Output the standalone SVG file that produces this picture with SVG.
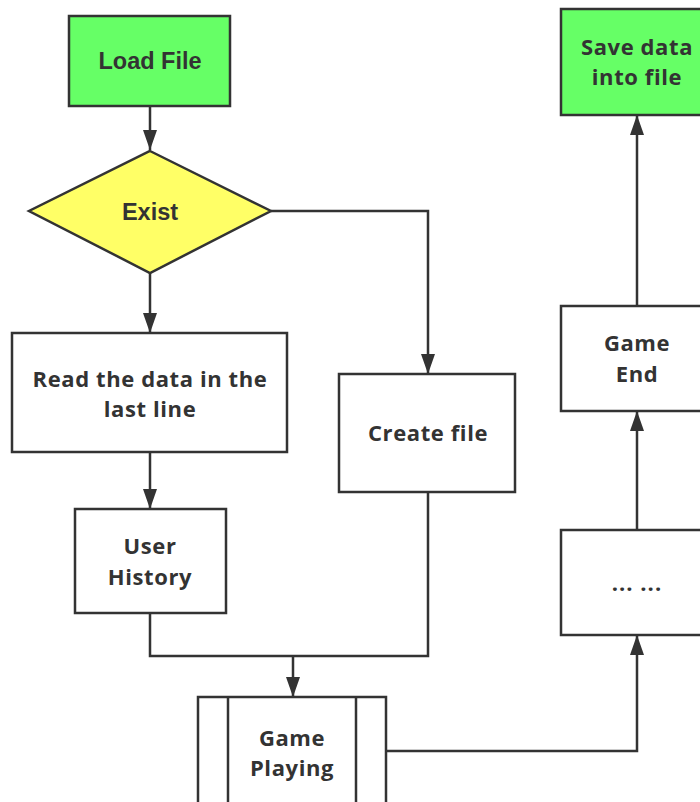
<svg xmlns="http://www.w3.org/2000/svg" width="700" height="802" viewBox="0 0 700 802">
  <style>
    .box { fill: #ffffff; stroke: #333333; stroke-width: 2.5; }
    .start { fill: #66ff66; stroke: #333333; stroke-width: 2.5; }
    .decision { fill: #ffff66; stroke: #333333; stroke-width: 2.5; }
    .edge { fill: none; stroke: #333333; stroke-width: 2.5; }
    .label { font-family: "Open Sans", "Noto Sans", sans-serif; font-weight: 700; font-size: 22px; letter-spacing: 0.6px; fill: #333333; text-anchor: middle; }
    .label-arial { font-family: "Liberation Sans", Arial, sans-serif; font-weight: 700; font-size: 23.5px; fill: #333333; text-anchor: middle; }
    .dots { font-family: "Open Sans", "Noto Sans", sans-serif; font-weight: 700; font-size: 22px; letter-spacing: 1px; fill: #333333; text-anchor: middle; }
  </style>
  <defs>
    <marker id="arrow" viewBox="0 0 20 14" refX="20" refY="7" markerWidth="20" markerHeight="14" markerUnits="userSpaceOnUse" orient="auto">
      <path d="M0,0 L20,7 L0,14 Z" fill="#333333"/>
    </marker>
  </defs>

  <rect width="700" height="802" fill="#ffffff"/>

  <g id="connectors">
    <path class="edge" d="M150,107 V150" marker-end="url(#arrow)"/>
    <path class="edge" d="M150,273 V333" marker-end="url(#arrow)"/>
    <path class="edge" d="M271,211 H428 V374" marker-end="url(#arrow)"/>
    <path class="edge" d="M150,452 V509" marker-end="url(#arrow)"/>
    <path class="edge" d="M150,613 V656 H428 V492"/>
    <path class="edge" d="M293,656 V697" marker-end="url(#arrow)"/>
    <path class="edge" d="M386,751 H637 V635" marker-end="url(#arrow)"/>
    <path class="edge" d="M637,530 V411" marker-end="url(#arrow)"/>
    <path class="edge" d="M637,306 V115" marker-end="url(#arrow)"/>
  </g>

  <g id="load-file">
    <rect class="start" x="69" y="16" width="161" height="90"/>
    <text class="label-arial" x="150" y="69">Load File</text>
  </g>

  <g id="exist">
    <polygon class="decision" points="150,151 271,211 150,273 29,211"/>
    <text class="label-arial" x="150" y="220">Exist</text>
  </g>

  <g id="read-data">
    <rect class="box" x="12" y="333" width="275" height="119"/>
    <text class="label" x="150" y="387">Read the data in the</text>
    <text class="label" x="150" y="417">last line</text>
  </g>

  <g id="user-history">
    <rect class="box" x="75" y="509" width="151" height="104"/>
    <text class="label" x="150" y="554">User</text>
    <text class="label" x="150" y="585">History</text>
  </g>

  <g id="create-file">
    <rect class="box" x="339" y="374" width="176" height="118"/>
    <text class="label" x="428" y="441">Create file</text>
  </g>

  <g id="game-playing">
    <rect class="box" x="198" y="697" width="188" height="120"/>
    <line class="edge" x1="228" y1="697" x2="228" y2="817"/>
    <line class="edge" x1="356" y1="697" x2="356" y2="817"/>
    <text class="label" x="292" y="746">Game</text>
    <text class="label" x="292" y="776">Playing</text>
  </g>

  <g id="in-progress">
    <rect class="box" x="561" y="530" width="152" height="105"/>
    <text class="dots" x="637" y="591">... ...</text>
  </g>

  <g id="game-end">
    <rect class="box" x="561" y="306" width="152" height="105"/>
    <text class="label" x="637" y="351">Game</text>
    <text class="label" x="637" y="382">End</text>
  </g>

  <g id="save-data">
    <rect class="start" x="561" y="9" width="152" height="106"/>
    <text class="label" x="637" y="55">Save data</text>
    <text class="label" x="637" y="85">into file</text>
  </g>
</svg>
